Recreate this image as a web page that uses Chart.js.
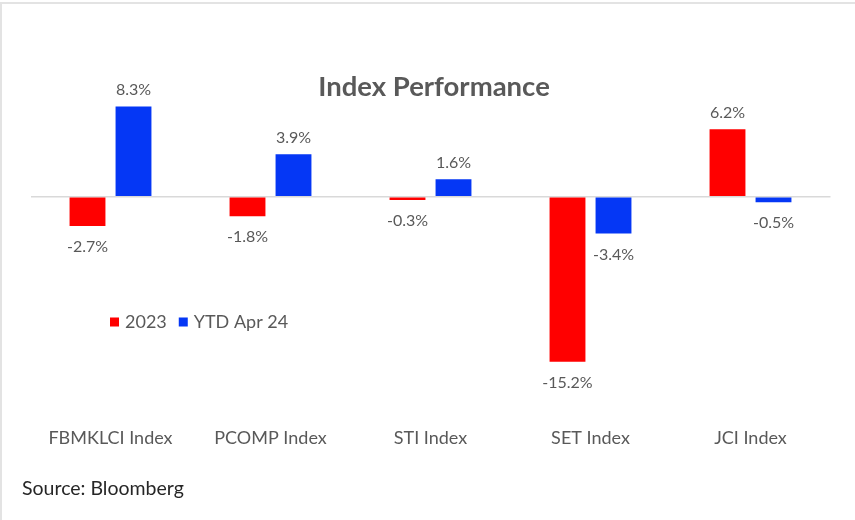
<!DOCTYPE html>
<html>
<head>
<meta charset="utf-8">
<script src="https://cdn.jsdelivr.net/npm/chart.js@4/dist/chart.umd.min.js"></script>
<style>
  html, body { margin: 0; padding: 0; background: #fff; }
  #wrap { position: relative; width: 855px; height: 520px; overflow: hidden; background: #fff; }
  #frame { position: absolute; left: 0; top: 2px; width: 855px; height: 518px; border-top: 2px solid #e3e3e3; border-left: 2px solid #e3e3e3; box-sizing: border-box; pointer-events: none; }
  #source { position: absolute; left: 22px; top: 476px; font-family: Lato, "Open Sans", sans-serif; font-size: 19.5px; color: #262626; }
  canvas { position: absolute; left: 0; top: 0; }
</style>
</head>
<body>
<div id="wrap">
  <canvas id="c" width="855" height="520"></canvas>
  <div id="frame"></div>
  <div id="source">Source: Bloomberg</div>
</div>
<script>
const categories = ["FBMKLCI Index", "PCOMP Index", "STI Index", "SET Index", "JCI Index"];
const series2023 = [-2.7, -1.8, -0.3, -15.2, 6.2];
const seriesYTD = [8.3, 3.9, 1.6, -3.4, -0.5];
const seriesNames = ["2023", "YTD Apr 24"];
const seriesColors = ["#FF0000", "#0537F5"];
const chartTitle = "Index Performance";

const FONT = 'Lato, "Open Sans", sans-serif';
const GRAY = '#595959';

const overlayPlugin = {
  id: 'overlay',
  afterDatasetsDraw(chart) {
    const ctx = chart.ctx;
    ctx.save();
    // value labels
    ctx.font = '16px ' + FONT;
    ctx.fillStyle = GRAY;
    ctx.textAlign = 'center';
    ctx.textBaseline = 'middle';
    chart.data.datasets.forEach((ds, di) => {
      const meta = chart.getDatasetMeta(di);
      meta.data.forEach((el, i) => {
        const v = ds.data[i];
        const y = v >= 0 ? el.y - 16.5 : el.y + 21;
        ctx.fillText(v.toFixed(1) + '%', el.x, y);
      });
    });
    // title
    ctx.font = 'bold 27.5px ' + FONT;
    ctx.fillStyle = GRAY;
    ctx.fillText(chartTitle, 434, 87);
    // legend
    ctx.font = '18px ' + FONT;
    ctx.textAlign = 'left';
    let x = 110;
    const ly = 322;
    chart.data.datasets.forEach((ds) => {
      ctx.fillStyle = ds.backgroundColor;
      ctx.fillRect(x, ly - 4.5, 9, 9);
      x += 15;
      ctx.fillStyle = GRAY;
      ctx.fillText(ds.label, x, ly);
      x += ctx.measureText(ds.label).width + 12;
    });
    ctx.restore();
  }
};

new Chart(document.getElementById('c'), {
  type: 'bar',
  data: {
    labels: categories,
    datasets: [
      { label: seriesNames[0], data: series2023, backgroundColor: seriesColors[0], barPercentage: 0.78, categoryPercentage: 0.575 },
      { label: seriesNames[1], data: seriesYTD, backgroundColor: seriesColors[1], barPercentage: 0.78, categoryPercentage: 0.575 }
    ]
  },
  options: {
    responsive: false,
    animation: false,
    devicePixelRatio: 1,
    layout: { padding: { left: 30.5, right: 24.5, top: 33.8, bottom: 66.1 } },
    plugins: { legend: { display: false }, tooltip: { enabled: false }, title: { display: false } },
    scales: {
      x: {
        grid: { display: false },
        border: { display: false },
        ticks: { color: GRAY, font: { family: FONT, size: 18 }, padding: 5, maxRotation: 0, autoSkip: false },
        afterFit: (s) => { s.height = 40; }
      },
      y: {
        min: -20, max: 15,
        ticks: { display: false, stepSize: 5 },
        border: { display: false },
        grid: { drawTicks: false, lineWidth: 1.5, color: (c) => (c.tick && c.tick.value === 0) ? '#d9d9d9' : 'rgba(0,0,0,0)' },
        afterFit: (s) => { s.width = 0; }
      }
    }
  },
  plugins: [overlayPlugin]
});
</script>
</body>
</html>
